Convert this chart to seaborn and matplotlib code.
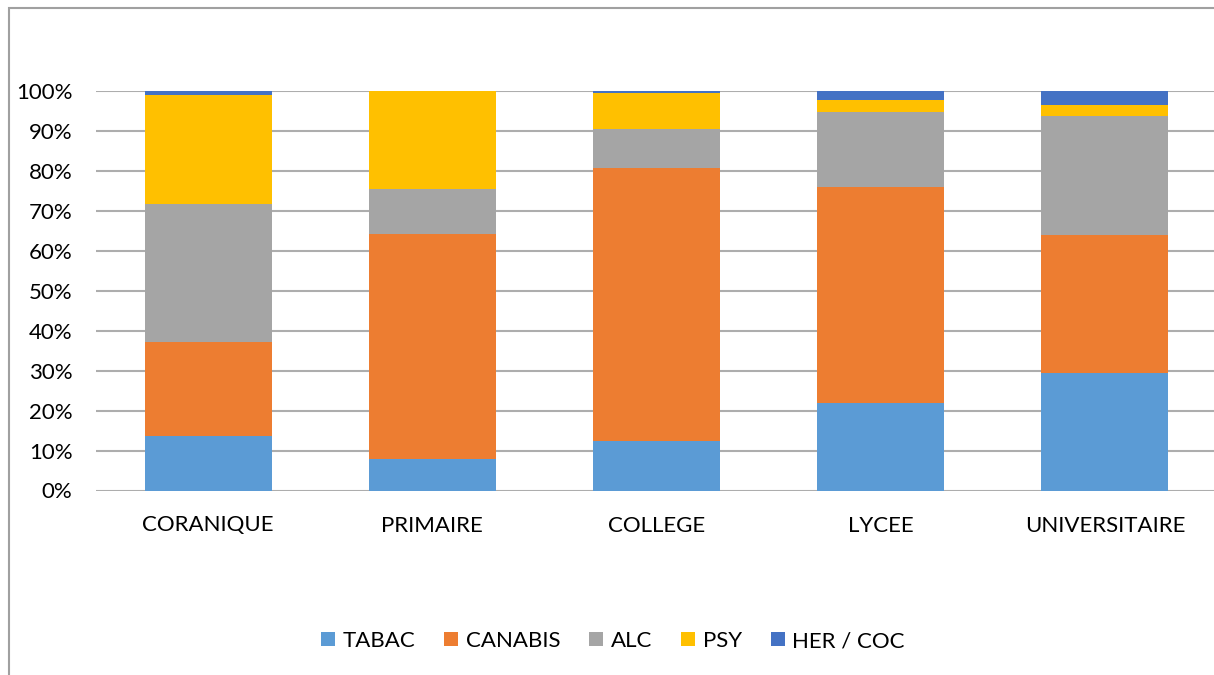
import matplotlib
matplotlib.use("Agg")
import matplotlib.pyplot as plt
from matplotlib.patches import Rectangle, Patch
from matplotlib.ticker import FuncFormatter, MultipleLocator
import numpy as np
import pandas as pd
import seaborn as sns

# Share of each substance by education level (%)
levels = ["CORANIQUE", "PRIMAIRE", "COLLEGE", "LYCEE", "UNIVERSITAIRE"]
tabac = [13.7, 7.8, 12.4, 21.8, 29.5]
canabis = [23.5, 56.4, 68.3, 54.2, 34.4]
alc = [34.4, 11.2, 9.9, 18.8, 29.8]
psy = [27.5, 24.6, 8.8, 2.9, 2.9]
her_coc = [0.9, 0.0, 0.6, 2.3, 3.4]

series_names = ["TABAC", "CANABIS", "ALC", "PSY", "HER / COC"]
series_values = [tabac, canabis, alc, psy, her_coc]
colors = ["#5B9BD5", "#ED7D31", "#A5A5A5", "#FFC000", "#4472C4"]

sns.set_theme(style="white")
plt.rcParams["font.family"] = ["Lato", "DejaVu Sans"]

fig = plt.figure(figsize=(12.14, 6.75), dpi=100)
W, H = 1214, 675
ax = fig.add_axes([96 / W, (H - 490.5) / H, (1217 - 96) / W, 399.5 / H])

# Stacked bars: draw cumulative totals from the top layer downward
df = pd.DataFrame({"level": levels})
cum = np.cumsum(np.array(series_values), axis=0)
for i in range(len(series_names) - 1, -1, -1):
    df["value"] = cum[i]
    sns.barplot(data=df, x="level", y="value", color=colors[i], width=0.567,
                saturation=1, linewidth=0, ax=ax, zorder=3)

ax.set_ylim(0, 100)
ax.set_xlim(-0.5, len(levels) - 0.5)
ax.yaxis.set_major_locator(MultipleLocator(10))
ax.yaxis.set_major_formatter(FuncFormatter(lambda v, p: f"{int(round(v))}%"))
ax.grid(axis="y", color="#ADADAD", linewidth=1.5, zorder=0)
ax.set_axisbelow(True)
for s in ax.spines.values():
    s.set_visible(False)
ax.set_xlabel("")
ax.set_ylabel("")
ax.tick_params(axis="y", length=0, pad=17, labelsize=16, labelcolor="#000000")
ax.tick_params(axis="x", length=0, pad=18, labelsize=16, labelcolor="#000000")

# Legend below the plot
handles = [Patch(facecolor=c, edgecolor="none") for c in colors]
fig.legend(handles, series_names, loc="center", ncol=5,
           bbox_to_anchor=(0.505, 1 - 641 / H), frameon=False,
           fontsize=16, handlelength=0.62, handleheight=0.62,
           handletextpad=0.35, columnspacing=1.3, labelcolor="#000000")

# Chart frame
fig.patches.append(Rectangle((8.5 / W, -0.05), 1.1, 1.05 - 8.5 / H,
                             transform=fig.transFigure, fill=False,
                             edgecolor="#A0A0A0", linewidth=1.5))

fig.savefig("out.png", dpi=100, facecolor="white")
